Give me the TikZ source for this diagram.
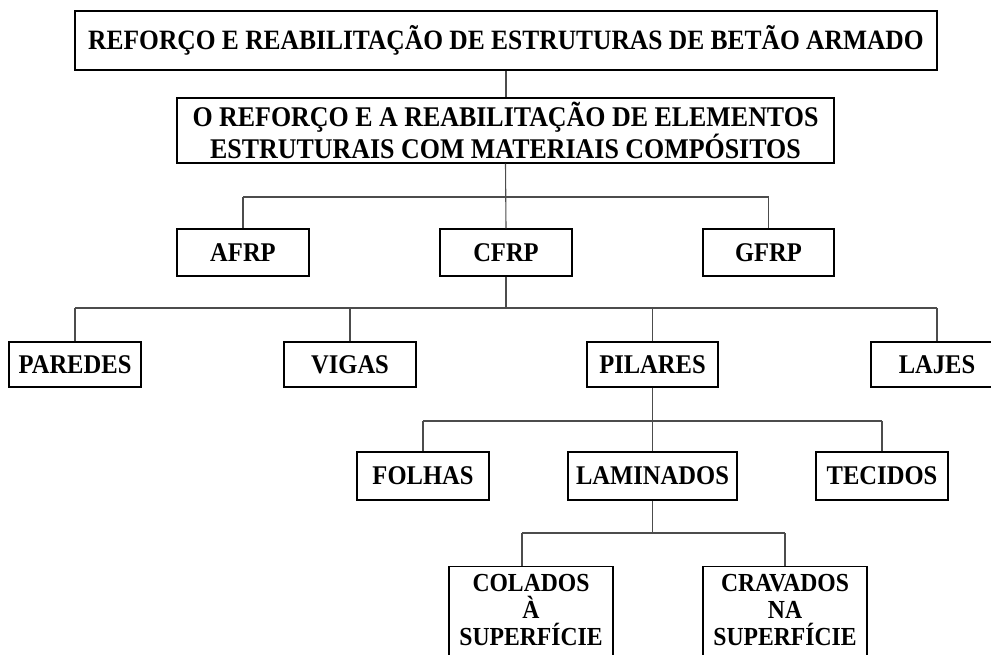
\documentclass[tikz,border=0pt]{standalone}
\usepackage{fontspec}
\setmainfont{Liberation Serif}[FakeStretch=0.91]
\begin{document}
\begin{tikzpicture}[x=1pt, y=-1pt,
    box/.style={draw=black, line width=1.1pt, rectangle, inner sep=0pt,
      align=center, font=\bfseries\fontsize{27}{29}\selectfont},
    link/.style={draw=black!70, line width=1.1pt}]
  % Frame
    \clip (0,0) rectangle (991,655);

  % Top levels
    \node[box, minimum width=862pt, minimum height=59pt,
      font=\bfseries\fontsize{28}{30}\selectfont] (title) at (506,40.5)
      {REFORÇO E REABILITAÇÃO DE ESTRUTURAS DE BETÃO ARMADO};
    \node[box, minimum width=657pt, minimum height=65pt,
      font=\bfseries\fontsize{28.5}{29}\selectfont] (sub) at (505.5,130.5)
      {O REFORÇO E A REABILITAÇÃO DE ELEMENTOS\\ESTRUTURAIS COM MATERIAIS COMPÓSITOS};

  % Materials
    \node[box, minimum width=132pt, minimum height=47pt] (afrp) at (243,252.5) {AFRP};
    \node[box, minimum width=132pt, minimum height=47pt] (cfrp) at (506,252.5) {CFRP};
    \node[box, minimum width=131pt, minimum height=47pt] (gfrp) at (768.5,252.5) {GFRP};

  % Elements
    \node[box, minimum width=132pt, minimum height=45pt] (paredes) at (75,364.5) {PAREDES};
    \node[box, minimum width=132pt, minimum height=45pt] (vigas) at (350,364.5) {VIGAS};
    \node[box, minimum width=131pt, minimum height=45pt] (pilares) at (652.5,364.5) {PILARES};
    \node[box, minimum width=132pt, minimum height=45pt] (lajes) at (937,364.5) {LAJES};

  % Forms
    \node[box, minimum width=132pt, minimum height=48pt] (folhas) at (423,476) {FOLHAS};
    \node[box, minimum width=169pt, minimum height=48pt] (laminados) at (652.5,476) {LAMINADOS};
    \node[box, minimum width=132pt, minimum height=48pt] (tecidos) at (882,476) {TECIDOS};

  % Techniques
    \node[box, anchor=north, minimum width=164pt, inner ysep=8pt, text depth=40pt,
      font=\bfseries\fontsize{26}{27}\selectfont] (colados) at (531,566)
      {COLADOS\\À\\SUPERFÍCIE};
    \node[box, anchor=north, minimum width=164pt, inner ysep=8pt, text depth=40pt,
      font=\bfseries\fontsize{26}{27}\selectfont] (cravados) at (785,566)
      {CRAVADOS\\NA\\SUPERFÍCIE};

  % Buses
    \coordinate (bus1) at (506,197);
    \coordinate (bus2) at (506,308);
    \coordinate (bus3) at (652.5,421);
    \coordinate (bus4) at (652.5,533);

  % Connectors
    \draw[link] (title.south) -- (title.south |- sub.north);
    \draw[link] (sub.south) -- (cfrp.north);
    \draw[link] (afrp.north |- bus1) -- (gfrp.north |- bus1);
    \foreach \n in {afrp,gfrp} {
      \draw[link] (\n.north) -- (\n.north |- bus1);
    }

    \draw[link] (cfrp.south) -- (bus2);
    \draw[link] (paredes.north |- bus2) -- (lajes.north |- bus2);
    \foreach \n in {paredes,vigas,pilares,lajes} {
      \draw[link] (\n.north) -- (\n.north |- bus2);
    }

    \draw[link] (pilares.south) -- (bus3);
    \draw[link] (folhas.north |- bus3) -- (tecidos.north |- bus3);
    \foreach \n in {folhas,laminados,tecidos} {
      \draw[link] (\n.north) -- (\n.north |- bus3);
    }

    \draw[link] (laminados.south) -- (bus4);
    \draw[link] ([xshift=-9pt]colados.north |- bus4) -- (cravados.north |- bus4);
    \draw[link] ([xshift=-9pt]colados.north) -- ([xshift=-9pt]colados.north |- bus4);
    \draw[link] (cravados.north) -- (cravados.north |- bus4);

\end{tikzpicture}
\end{document}
